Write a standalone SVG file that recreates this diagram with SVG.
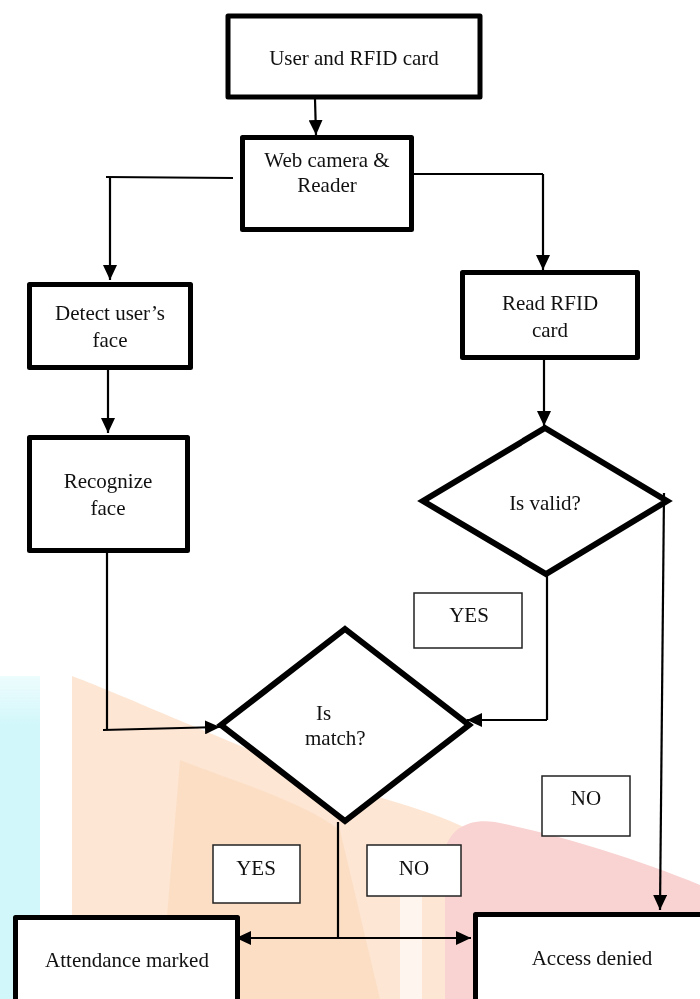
<svg xmlns="http://www.w3.org/2000/svg" width="700" height="999" viewBox="0 0 700 999">
<style>
.box{fill:#fff;stroke:#000;stroke-width:5;stroke-linejoin:round}
.dia{fill:#fff;stroke:#000;stroke-width:6;stroke-linejoin:miter}
.lbl{fill:#fff;stroke:#222;stroke-width:1.5}
.t{font-family:"Liberation Serif","Times New Roman",serif;font-size:21px;fill:#111;text-anchor:middle}
.ts{text-anchor:start}
.c{fill:none;stroke:#000;stroke-width:2.2}
</style>
<defs>
<marker id="ah" markerUnits="userSpaceOnUse" markerWidth="15" markerHeight="14" refX="15" refY="7" orient="auto">
<path d="M0,0 L15,7 L0,14 z" fill="#000"/>
</marker>
<linearGradient id="cy" x1="0" y1="0" x2="0" y2="1">
<stop offset="0" stop-color="#d6f8fb" stop-opacity="0.5"/>
<stop offset="0.15" stop-color="#ccf6fa"/>
<stop offset="1" stop-color="#cdf6fa"/>
</linearGradient>
</defs>
<rect width="700" height="999" fill="#fff"/>
<g id="watermark" opacity="0.9">
<rect x="0" y="676" width="40" height="323" fill="url(#cy)"/>
<path d="M72,676 C110,690 200,730 300,770 C360,795 420,805 470,830 L470,999 L72,999 Z" fill="#fde4d0"/>
<path d="M180,760 C230,780 300,800 340,830 L380,999 L160,999 Z" fill="#fcd6b4" opacity="0.6"/>
<path d="M445,999 L445,850 C450,828 470,818 495,822 C560,835 640,860 700,885 L700,999 Z" fill="#f9cdcd"/>
<rect x="400" y="860" width="22" height="139" fill="#fff" opacity="0.6"/>
</g>
<g id="connectors">
<line class="c" x1="315" y1="99" x2="316" y2="135" marker-end="url(#ah)"/>
<polyline class="c" points="233,178 106,177"/>
<line class="c" x1="110" y1="177" x2="110" y2="280" marker-end="url(#ah)"/>
<polyline class="c" points="414,174 543,174"/>
<line class="c" x1="543" y1="174" x2="543" y2="270" marker-end="url(#ah)"/>
<line class="c" x1="108" y1="370" x2="108" y2="433" marker-end="url(#ah)"/>
<line class="c" x1="544" y1="360" x2="544" y2="426" marker-end="url(#ah)"/>
<line class="c" x1="107" y1="553" x2="107" y2="730"/>
<line class="c" x1="103" y1="730" x2="220" y2="727" marker-end="url(#ah)"/>
<polyline class="c" points="547,575 547,720"/>
<line class="c" x1="547" y1="720" x2="467" y2="720" marker-end="url(#ah)"/>
<line class="c" x1="664" y1="493" x2="660" y2="910" marker-end="url(#ah)"/>
<line class="c" x1="338" y1="822" x2="338" y2="938"/>
<line class="c" x1="338" y1="938" x2="236" y2="938" marker-end="url(#ah)"/>
<line class="c" x1="338" y1="938" x2="471" y2="938" marker-end="url(#ah)"/>
</g>
<g id="user-rfid">
<rect class="box" x="228" y="16" width="252" height="81"/>
<text class="t" x="354" y="65">User and RFID card</text>
</g>
<g id="web-camera">
<rect class="box" x="242.5" y="137.5" width="169" height="92"/>
<text class="t" x="327" y="167">Web camera &amp;</text>
<text class="t" x="327" y="192">Reader</text>
</g>
<g id="detect-face">
<rect class="box" x="29.5" y="284.5" width="161" height="83"/>
<text class="t" x="110" y="320">Detect user’s</text>
<text class="t" x="110" y="347">face</text>
</g>
<g id="read-rfid">
<rect class="box" x="462.5" y="272.5" width="175" height="85"/>
<text class="t" x="550" y="310">Read RFID</text>
<text class="t" x="550" y="337">card</text>
</g>
<g id="recognize-face">
<rect class="box" x="29.5" y="437.5" width="158" height="113"/>
<text class="t" x="108" y="488">Recognize</text>
<text class="t" x="108" y="515">face</text>
</g>
<g id="is-valid">
<polygon class="dia" points="545,428 667,501 546,574 423,501"/>
<text class="t" x="545" y="510">Is valid?</text>
</g>
<g id="label-yes-valid">
<rect class="lbl" x="414" y="593" width="108" height="55"/>
<text class="t" x="469" y="622">YES</text>
</g>
<g id="is-match">
<polygon class="dia" points="345,629 469,725 345,821 221,725"/>
<text class="t ts" x="316" y="720">Is</text>
<text class="t ts" x="305" y="745">match?</text>
</g>
<g id="label-no-valid">
<rect class="lbl" x="542" y="776" width="88" height="60"/>
<text class="t" x="586" y="805">NO</text>
</g>
<g id="label-yes-match">
<rect class="lbl" x="213" y="845" width="87" height="58"/>
<text class="t" x="256" y="875">YES</text>
</g>
<g id="label-no-match">
<rect class="lbl" x="367" y="845" width="94" height="51"/>
<text class="t" x="414" y="875">NO</text>
</g>
<g id="attendance-marked">
<rect class="box" x="15.5" y="917.5" width="222" height="100"/>
<text class="t" x="127" y="967">Attendance marked</text>
</g>
<g id="access-denied">
<rect class="box" x="475.5" y="914.5" width="240" height="100"/>
<text class="t" x="592" y="965">Access denied</text>
</g>
</svg>
